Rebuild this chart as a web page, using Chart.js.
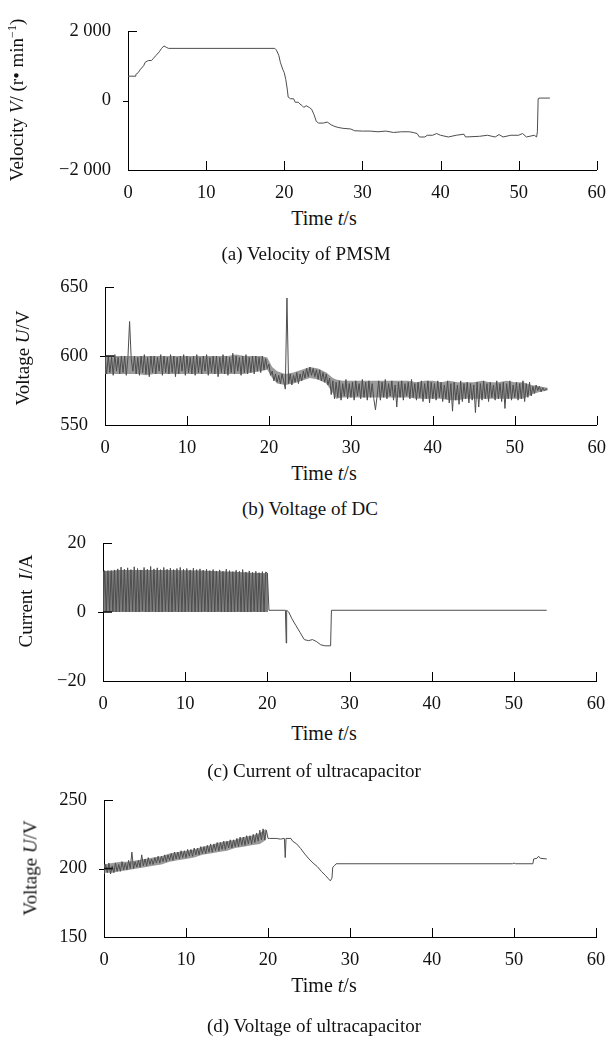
<!DOCTYPE html>
<html><head><meta charset="utf-8">
<script src="https://cdn.jsdelivr.net/npm/chart.js@4.4.1/dist/chart.umd.min.js"></script>
<style>
html,body{margin:0;padding:0;background:#fff;}
body{width:610px;height:1039px;position:relative;overflow:hidden;font-family:"Liberation Serif","Times New Roman",serif;color:#111;}
canvas{position:absolute;left:0;}
.lbl{position:absolute;white-space:nowrap;font-size:20px;line-height:1;transform:translate(-50%,-50%);}
.rot{transform:translate(-50%,-50%) rotate(-90deg);font-size:19px;}
.cap{font-size:19px;}
sup{font-size:12px;vertical-align:7px;line-height:0;}
</style></head><body>
<canvas id="cA" width="610" height="200" style="top:0px"></canvas>
<canvas id="cB" width="610" height="200" style="top:260px"></canvas>
<canvas id="cC" width="610" height="200" style="top:520px"></canvas>
<canvas id="cD" width="610" height="200" style="top:780px"></canvas>

<div class="lbl rot" style="left:16px;top:100px">Velocity <i>V</i>/ (r• min<sup>−1</sup>)</div>
<div class="lbl" style="left:324px;top:218px">Time <i>t</i>/s</div>
<div class="lbl cap" style="left:306px;top:253px">(a) Velocity of PMSM</div>

<div class="lbl rot" style="left:22px;top:358px">Voltage <i>U</i>/V</div>
<div class="lbl" style="left:324px;top:473px">Time <i>t</i>/s</div>
<div class="lbl cap" style="left:310px;top:508px">(b) Voltage of DC</div>

<div class="lbl rot" style="left:25px;top:601px">Current&nbsp; <i>I</i>/A</div>
<div class="lbl" style="left:324px;top:733px">Time <i>t</i>/s</div>
<div class="lbl cap" style="left:314px;top:770px">(c) Current of ultracapacitor</div>

<div class="lbl rot" style="left:30px;top:868px">Voltage <i>U</i>/V</div>
<div class="lbl" style="left:324px;top:985px">Time <i>t</i>/s</div>
<div class="lbl cap" style="left:314px;top:1025px">(d) Voltage of ultracapacitor</div>

<script>
// ---------- tick labels ----------
const xTicks = [0, 10, 20, 30, 40, 50, 60];
const velTicks = [-2000, 0, 2000];
const velTickLabels = ['−2 000', '0', '2 000'];
const dcTicks = [550, 600, 650];
const dcTickLabels = ['550', '600', '650'];
const curTicks = [-20, 0, 20];
const curTickLabels = ['−20', '0', '20'];
const ucTicks = [150, 200, 250];
const ucTickLabels = ['150', '200', '250'];

// ---------- (a) velocity of PMSM ----------
const velTime = [0,0.9,1.0,1.3,1.6,2.0,2.2,2.6,3.0,3.2,3.6,4.0,4.3,4.6,4.9,5.2,18.8,19.0,19.3,19.5,19.8,20.0,20.2,20.4,20.5,20.8,21.2,21.4,21.8,22.0,22.3,22.5,22.8,23.2,23.5,23.8,24.1,24.4,25.0,25.5,26,26.5,27,27.5,28.5,29,30,31,32,33,34,35,36,36.5,37,37.3,38,38.3,39,39.5,40,41,42,43,43.2,45,46,47,47.5,48,49,50,50.5,51,52,52.3,52.4,52.5,52.6,54];
const velValue = [700,700,750,800,900,1000,1100,1150,1150,1200,1300,1400,1500,1570,1530,1500,1500,1450,1300,1100,900,800,600,300,100,50,50,-50,-50,-100,-150,-200,-150,-200,-250,-400,-600,-650,-650,-620,-700,-750,-780,-800,-820,-870,-880,-880,-900,-880,-920,-900,-900,-920,-950,-1050,-1050,-1000,-1000,-950,-1000,-1050,-1000,-970,-1050,-1030,-1000,-1050,-980,-1050,-1000,-1000,-950,-1050,-1000,-1050,-900,50,70,70];

// ---------- (b) DC voltage, sampled from t = 0 s every 0.2 s ----------
const dcStart = 0, dcStep = 0.2;
const dcVolt = [
600,587,600,588,599,586,601,589,599,587,
600,588,600,586,599,625,598,589,600,587,
599,586,600,588,601,587,599,585,600,588,
600,587,599,589,601,586,600,588,599,587,
601,588,600,585,599,587,600,589,601,586,
600,588,599,587,600,586,601,588,599,587,
600,589,601,586,599,588,600,587,600,585,
599,588,601,587,600,586,599,588,602,587,
600,589,599,586,600,588,601,587,599,588,
600,587,600,589,599,588,600,590,598,591,
594,586,589,582,587,581,586,580,587,582,
576,642,580,587,579,586,581,588,580,587,
582,589,584,591,585,592,586,591,585,590,
583,590,582,588,581,587,579,584,572,582,
569,581,570,582,568,580,571,583,569,580,
570,581,568,582,571,580,569,583,570,581,
568,582,570,580,569,561,571,582,568,581,
570,583,569,580,571,582,568,579,563,581,
570,582,568,580,571,581,569,583,570,580,
568,581,570,582,567,580,569,582,566,581,
569,580,568,582,570,581,567,579,569,582,
566,580,560,581,568,579,565,582,567,580,
569,581,566,580,568,579,559,581,563,580,
568,582,569,580,567,581,570,579,568,582,
569,580,567,581,562,580,569,582,568,579,
570,581,568,580,569,582,567,580,570,581,
571,578,573,579,575,578,574,577,575,576,576];
// band envelope of the DC voltage (1 s samples)
const dcEnvTime  = [0,1,2,3,4,5,6,7,8,9,10,11,12,13,14,15,16,17,18,19,19.8,20.4,21,22,23,24,25,26,27,27.8,28.2,29,30,31,32,33,34,35,36,37,38,39,40,41,42,43,44,45,46,47,48,49,50,51,52,53,54];
const dcEnvUpper = [600,600,600,600,600,600,600,600,600,600,600,600,600,600,600,600,601,600,600,600,599,592,589,587,588,590,592,591,588,584,583,582,582,582,582,582,582,582,582,582,581,582,582,581,582,581,581,581,582,581,581,582,581,581,579,578,577];
const dcEnvLower = [587,587,587,587,587,586,587,587,587,587,587,587,587,587,587,587,587,587,588,589,590,584,580,579,580,582,584,583,580,573,569,570,570,570,570,570,570,570,570,570,569,569,569,569,568,568,569,569,569,569,569,569,569,569,572,574,575];
const dcStartMark = [600, 600];

// ---------- (c) ultracapacitor current ----------
const curStart = 0, curStep = 0.2;
const curBand = [
0,12,0,12,0.3,12,0,12.2,0,12.5,
0,13,0.2,12.4,0,12.8,0,12.3,0.2,13.1,
0,12.6,0,12.2,0.3,12.9,0,12.4,0,13.2,
0.2,12.5,0,12.8,0,12.3,0,12.9,0.2,12.4,
0,12.7,0,12.3,0.2,12.6,0,12.9,0,12.4,
0,12.6,0.2,12.2,0,12.7,0,12.3,0,12.5,
0,12.1,0.2,12.4,0,12,0,12.3,0,11.9,
0.2,12.2,0,11.8,0,12.4,0,12,0,11.7,
0,12.1,0.2,11.8,0,12.3,0,11.6,0,11.9,
0,11.5,0.2,11.8,0,11.4,0,11.7,0,11.6,11.3];
const curTime = [20.2,22.2,22.3,22.35,22.6,23,23.5,24,24.5,25,25.5,26,26.5,27,27.7,27.8,54];
const curValue = [0.5,0.5,-9,0.5,0,-2,-4,-6,-8,-8.3,-8,-8.6,-9.5,-9.8,-9.8,0.5,0.5];
const curEnvTime  = [0,2,4,6,8,10,12,14,16,18,20.1];
const curEnvUpper = [11.8,12.2,12.2,12.2,12.2,12.1,12,11.8,11.7,11.4,11.2];
const curEnvLower = [0,0,0,0,0,0,0,0,0,0,0];
const curStartMark = [0, 0];

// ---------- (d) ultracapacitor voltage ----------
const ucStart = 0, ucStep = 0.2;
const ucBand = [
196,203,197,204,196,202,197,204,198,203,
198,205,199,204,199,206,200,212,200,205,
201,206,201,210,202,207,202,208,203,207,
203,208,204,209,204,209,205,210,205,210,
206,211,206,212,207,212,207,213,208,213,
208,214,209,214,209,215,210,215,210,216,
211,216,211,217,212,218,212,218,213,219,
213,219,214,220,214,220,215,221,215,221,
216,222,216,223,217,223,217,224,218,224,
218,225,219,226,220,228,221,229,221,228,222];
const ucTime = [20.2,21,21.5,22,22.1,22.2,22.8,23,23.5,24,24.5,25,25.5,26,26.5,27,27.3,27.6,27.8,27.9,28.1,28.3,30,40,49.8,50,50.2,52.3,52.4,52.8,53,53.2,54];
const ucValue = [222,222,221.5,222,208,222,222,220,218,214.5,210.5,207,204,201.5,198,195,193,191,193,201,202,203.5,203.5,203.5,203.5,204,203.5,203.5,207,207.5,209,207.5,207];
const ucEnvTime  = [0,1,2,3,4,5,6,7,8,9,10,11,12,13,14,15,16,17,18,19,19.8];
const ucEnvUpper = [203,204,205,205,206,207,208,209,211,212,213,214,216,217,219,220,221,223,224,226,229];
const ucEnvLower = [197,197,198,199,200,201,202,203,205,206,207,208,210,211,212,213,215,216,217,218,221];
const ucStartMark = [200, 200];
const markTime = [0, 1.1];

// ---------- helpers ----------
function sampled(start, step, vals) { return vals.map((v, i) => ({ x: +(start + i * step).toFixed(3), y: v })); }
function pairs(ts, vs) { return ts.map((t, i) => ({ x: t, y: vs[i] })); }

const LINE = '#4d4d4d';
const FONT = { family: 'Liberation Serif', size: 18.5 };

function lineDs(d) { return { data: d, borderColor: LINE, borderWidth: 1, pointRadius: 0, tension: 0, fill: false }; }
function markDs(d) { return { data: d, borderColor: '#111', borderWidth: 1.6, pointRadius: 0, tension: 0, fill: false }; }
function bandDs(upper, lower, color) {
  return [
    { data: upper, borderColor: 'rgba(0,0,0,0)', borderWidth: 0, pointRadius: 0, tension: 0, fill: '+1', backgroundColor: color },
    { data: lower, borderColor: 'rgba(0,0,0,0)', borderWidth: 0, pointRadius: 0, tension: 0, fill: false }
  ];
}

const tickPlugin = {
  id: 'innerTicks',
  afterDraw(chart) {
    const { ctx, chartArea } = chart;
    const xs = chart.scales.x, ys = chart.scales.y;
    ctx.save();
    ctx.strokeStyle = '#000';
    ctx.lineWidth = 1;
    ctx.beginPath();
    xTicks.forEach(v => {
      if (v === xs.min) return;
      const px = Math.round(xs.getPixelForValue(v)) + 0.5;
      ctx.moveTo(px, Math.round(chartArea.bottom));
      ctx.lineTo(px, Math.round(chartArea.bottom) - 9);
    });
    const top = Math.round(ys.getPixelForValue(ys.max)) + 0.5;
    const left = Math.round(chartArea.left);
    ctx.moveTo(left, top); ctx.lineTo(left + 9, top);
    const midV = (ys.max + ys.min) / 2;
    const mid = Math.round(ys.getPixelForValue(midV)) + 0.5;
    ctx.moveTo(left - 5, mid); ctx.lineTo(left, mid);
    ctx.stroke();
    ctx.restore();
  }
};

function makeChart(id, canvasTop, area, datasets, yTicks, yLabels) {
  const H = 200;
  new Chart(document.getElementById(id), {
    type: 'line',
    data: { datasets: datasets },
    options: {
      responsive: false, animation: false, events: [],
      layout: { padding: { left: 0, top: area.T - canvasTop, right: 610 - area.R, bottom: 0 } },
      plugins: { legend: { display: false }, tooltip: { enabled: false } },
      scales: {
        x: {
          type: 'linear', min: 0, max: 60,
          grid: { display: false },
          border: { display: true, color: '#000', width: 1 },
          afterBuildTicks: s => { s.ticks = xTicks.map(v => ({ value: v })); },
          ticks: { color: '#111', font: FONT, padding: 4, maxRotation: 0, autoSkip: false, callback: v => String(v) },
          afterFit: s => { s.height = canvasTop + H - area.B; }
        },
        y: {
          type: 'linear', min: yTicks[0], max: yTicks[yTicks.length - 1],
          grid: { display: false },
          border: { display: true, color: '#000', width: 1 },
          afterBuildTicks: s => { s.ticks = yTicks.map(v => ({ value: v })); },
          ticks: { color: '#111', font: FONT, padding: 9, autoSkip: false, callback: v => yLabels[yTicks.indexOf(v)] },
          afterFit: s => { s.width = area.L; }
        }
      }
    },
    plugins: [tickPlugin]
  });
}

makeChart('cA', 0, { L: 128, T: 31, R: 597, B: 170 },
  [lineDs(pairs(velTime, velValue))], velTicks, velTickLabels);
makeChart('cB', 260, { L: 105, T: 287, R: 597, B: 425 },
  [markDs(pairs(markTime, dcStartMark)), lineDs(sampled(dcStart, dcStep, dcVolt))]
    .concat(bandDs(pairs(dcEnvTime, dcEnvUpper), pairs(dcEnvTime, dcEnvLower), 'rgba(120,120,120,0.75)')),
  dcTicks, dcTickLabels);
makeChart('cC', 520, { L: 103, T: 543, R: 596, B: 681 },
  [markDs(pairs(markTime, curStartMark)), lineDs(sampled(curStart, curStep, curBand).concat(pairs(curTime, curValue)))]
    .concat(bandDs(pairs(curEnvTime, curEnvUpper), pairs(curEnvTime, curEnvLower), 'rgba(95,95,95,0.8)')),
  curTicks, curTickLabels);
makeChart('cD', 780, { L: 104, T: 799, R: 596, B: 937 },
  [markDs(pairs(markTime, ucStartMark)), lineDs(sampled(ucStart, ucStep, ucBand).concat(pairs(ucTime, ucValue)))]
    .concat(bandDs(pairs(ucEnvTime, ucEnvUpper), pairs(ucEnvTime, ucEnvLower), 'rgba(120,120,120,0.75)')),
  ucTicks, ucTickLabels);
</script>
</body></html>
